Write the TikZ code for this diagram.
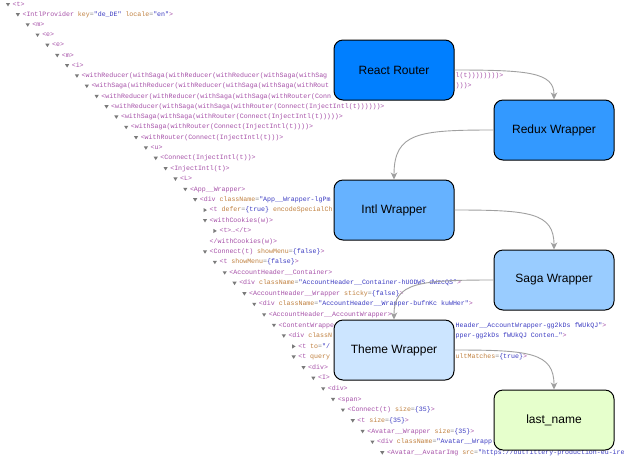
\documentclass[tikz,border=0pt]{standalone}
\usepackage{fontspec}
\newfontfamily\dtfont{Liberation Mono}
\newfontfamily\boxfont{Liberation Sans}
\usetikzlibrary{arrows.meta,calc}
\definecolor{tagc}{HTML}{A650A8}
\definecolor{attrc}{HTML}{C0803F}
\definecolor{valc}{HTML}{3B3BC2}
\definecolor{eqc}{HTML}{8A8A8A}
\definecolor{tric}{HTML}{7A7A7A}
\definecolor{edgec}{HTML}{A0A0A0}
\definecolor{cA}{HTML}{007FFF}
\definecolor{cB}{HTML}{3399FF}
\definecolor{cC}{HTML}{66B2FF}
\definecolor{cD}{HTML}{99CCFF}
\definecolor{cE}{HTML}{CCE5FF}
\definecolor{cF}{HTML}{E6FFCC}
\newcommand\dtag[1]{\textcolor{tagc}{#1}}
\newcommand\dattr[2]{\textcolor{attrc}{#1}\textcolor{eqc}{=}\textcolor{valc}{#2}}
\newcommand\dval[1]{\textcolor{valc}{#1}}
\newcommand\dtl[4]{%
  \pgfmathsetmacro\ly{4.5+10.155*#1+0.00624*#1*#1}%
  \pgfmathsetmacro\lx{8+9.85*#2}%
  \ifcase#3\relax
  \or \fill[tric] (\lx-2.1,\ly-1.5) -- (\lx+2.1,\ly-1.5) -- (\lx,\ly+1.9) -- cycle;
  \or \fill[tric] (\lx-1.5,\ly-2.1) -- (\lx-1.5,\ly+2.1) -- (\lx+1.9,\ly) -- cycle;
  \fi
  \node[dtline] (l#1) at (\lx+4.5,\ly) {#4};}
% visible tail of a line, to the right of a wrapper box
\newcommand\dtr[3]{%
  \pgfmathsetmacro\ly{4.5+10.155*#1+0.00624*#1*#1}%
  \node[dtline] (l#1r) at (#2,\ly) {#3};}
\tikzset{
  dtline/.style={anchor=west, inner sep=0pt, text height=4.8pt, text depth=1.4pt,
    font=\dtfont\fontsize{6.6}{7}\selectfont},
  wbox/.style={draw=black, line width=1pt, rounded corners=9pt, minimum width=120pt,
    minimum height=60pt, inner sep=0pt, font=\boxfont\fontsize{12}{14}\selectfont, text=black},
  edge/.style={draw=edgec, line width=0.9pt, -{Stealth[length=7pt,width=6.5pt,inset=2pt]}}
}
\begin{document}
\begin{tikzpicture}[x=1pt,y=-1pt]
\useasboundingbox (0,0) rectangle (631,459);
\fill[white] (0,0) rectangle (631,459);
\clip (0,0) rectangle (631,459);
\dtl{0}{0}{1}{\dtag{<t>}}
\dtl{1}{1}{1}{\dtag{<IntlProvider} \dattr{key}{"de\_DE"} \dattr{locale}{"en"}\dtag{>}}
\dtl{2}{2}{1}{\dtag{<m>}}
\dtl{3}{3}{1}{\dtag{<e>}}
\dtl{4}{4}{1}{\dtag{<e>}}
\dtl{5}{5}{1}{\dtag{<m>}}
\dtl{6}{6}{1}{\dtag{<i>}}
\dtl{7}{7}{1}{\dtag{<withReducer(withSaga(withReducer(withReducer(withSaga(withSag}}
\dtr{7}{455.5}{\dtag{l(t))))))))>}}
\dtl{8}{8}{1}{\dtag{<withSaga(withReducer(withReducer(withSaga(withSaga(withRout}}
\dtr{8}{455.5}{\dtag{)))>}}
\dtl{9}{9}{1}{\dtag{<withReducer(withReducer(withSaga(withSaga(withRouter(Conn}}
\dtl{10}{10}{1}{\dtag{<withReducer(withSaga(withSaga(withRouter(Connect(InjectIntl(t))))))>}}
\dtl{11}{11}{1}{\dtag{<withSaga(withSaga(withRouter(Connect(InjectIntl(t)))))>}}
\dtl{12}{12}{1}{\dtag{<withSaga(withRouter(Connect(InjectIntl(t))))>}}
\dtl{13}{13}{1}{\dtag{<withRouter(Connect(InjectIntl(t)))>}}
\dtl{14}{14}{1}{\dtag{<u>}}
\dtl{15}{15}{1}{\dtag{<Connect(InjectIntl(t))>}}
\dtl{16}{16}{1}{\dtag{<InjectIntl(t)>}}
\dtl{17}{17}{1}{\dtag{<L>}}
\dtl{18}{18}{1}{\dtag{<App\_\_Wrapper>}}
\dtl{19}{19}{1}{\dtag{<div} \dattr{className}{"App\_\_Wrapper-lgPm}}
\dtl{20}{20}{2}{\dtag{<t} \dattr{defer}{\{true\}} \textcolor{attrc}{encodeSpecialCh}}
\dtl{21}{20}{1}{\dtag{<withCookies(w)>}}
\dtl{22}{21}{2}{\dtag{<t>…</t>}}
\dtl{23}{20}{0}{\dtag{</withCookies(w)>}}
\dtl{24}{20}{1}{\dtag{<Connect(t)} \dattr{showMenu}{\{false\}}\dtag{>}}
\dtl{25}{21}{1}{\dtag{<t} \dattr{showMenu}{\{false\}}\dtag{>}}
\dtl{26}{22}{1}{\dtag{<AccountHeader\_\_Container>}}
\dtl{27}{23}{1}{\dtag{<div} \dattr{className}{"AccountHeader\_\_Container-hUODWS dWzcQS"}\dtag{>}}
\dtl{28}{24}{1}{\dtag{<AccountHeader\_\_Wrapper} \dattr{sticky}{\{false\}}\dtag{>}}
\dtl{29}{25}{1}{\dtag{<div} \dattr{className}{"AccountHeader\_\_Wrapper-bufnKc kuWHer"}\dtag{>}}
\dtl{30}{26}{1}{\dtag{<AccountHeader\_\_AccountWrapper>}}
\dtl{31}{27}{1}{\dtag{<ContentWrappe}}
\dtr{31}{455.5}{\dval{Header\_\_AccountWrapper-gg2kDs fWUkQJ"}\dtag{>}}
\dtl{32}{28}{1}{\dtag{<div} \textcolor{attrc}{classN}}
\dtr{32}{455.5}{\dval{pper-gg2kDs fWUkQJ Conten…"}\dtag{>}}
\dtl{33}{29}{2}{\dtag{<t} \dattr{to}{"/}}
\dtl{34}{29}{1}{\dtag{<t} \textcolor{attrc}{query}}
\dtr{34}{455.5}{\dattr{ultMatches}{\{true\}}\dtag{>}}
\dtl{35}{30}{1}{\dtag{<div>}}
\dtl{36}{31}{1}{\dtag{<I>}}
\dtl{37}{32}{1}{\dtag{<div>}}
\dtl{38}{33}{1}{\dtag{<span>}}
\dtl{39}{34}{1}{\dtag{<Connect(t)} \dattr{size}{\{35\}}\dtag{>}}
\dtl{40}{35}{1}{\dtag{<t} \dattr{size}{\{35\}}\dtag{>}}
\dtl{41}{36}{1}{\dtag{<Avatar\_\_Wrapper} \dattr{size}{\{35\}}\dtag{>}}
\dtl{42}{37}{1}{\dtag{<div} \dattr{className}{"Avatar\_\_Wrapp}}
\dtl{43}{38}{1}{\dtag{<Avatar\_\_AvatarImg} \dattr{src}{"https://outfittery-production-eu-ire}}
% wrapper boxes
\node[wbox, fill=cA] (rr) at (394,70) {React Router};
\node[wbox, fill=cB] (rw) at (554,130) {Redux Wrapper};
\node[wbox, fill=cC] (iw) at (394,210) {Intl Wrapper};
\node[wbox, fill=cD] (sw) at (554,280) {Saga Wrapper};
\node[wbox, fill=cE] (tw) at (394,350) {Theme Wrapper};
\node[wbox, fill=cF] (ln) at (554,420) {last\_name};
% connectors
\draw[edge] (rr.east) .. controls ($(rr.east)+(75,0)$) and ($(rw.north)+(0,-27)$) .. (rw.north);
\draw[edge] (rw.west) .. controls ($(rw.west)+(-75,0)$) and ($(iw.north)+(0,-47)$) .. (iw.north);
\draw[edge] (iw.east) .. controls ($(iw.east)+(75,0)$) and ($(sw.north)+(0,-37)$) .. (sw.north);
\draw[edge] (sw.west) .. controls ($(sw.west)+(-75,0)$) and ($(tw.north)+(0,-37)$) .. (tw.north);
\draw[edge] (tw.east) .. controls ($(tw.east)+(75,0)$) and ($(ln.north)+(0,-37)$) .. (ln.north);
\end{tikzpicture}
\end{document}
